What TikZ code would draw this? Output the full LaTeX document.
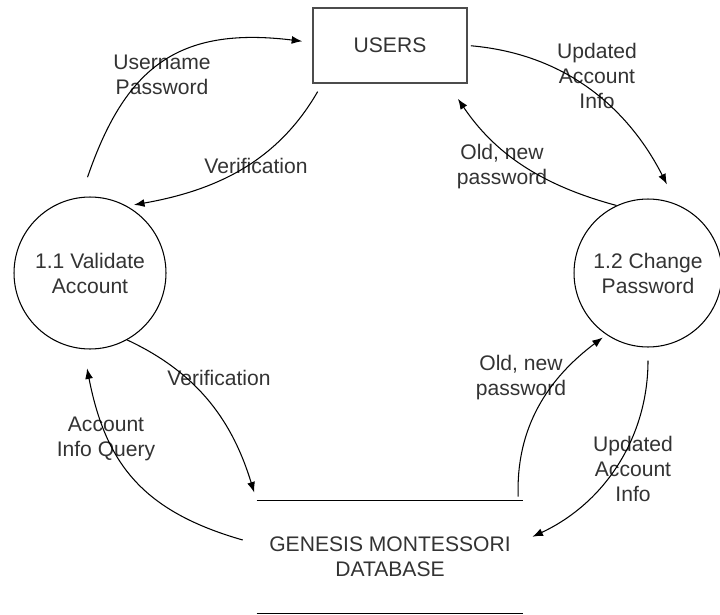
\documentclass[tikz,border=0pt]{standalone}
\usepackage{fontspec}
\setmainfont{Liberation Sans}
\usetikzlibrary{arrows.meta}

\begin{document}
\begin{tikzpicture}[x=0.02cm,y=0.02cm,
  font=\fontsize{12}{14.2}\selectfont,text=black!80,
  proc/.style={draw,circle,line width=0.6pt,minimum size=3.04cm,align=center,inner sep=0pt},
  ext/.style={draw=black!70,line width=1pt,minimum width=3.08cm,minimum height=1.5cm},
  store/.style={minimum width=5.32cm,minimum height=2.24cm,align=center},
  lbl/.style={align=center,inner sep=0pt},
  flow/.style={-{Latex[length=6pt,width=4.5pt]},line width=0.6pt}]
\useasboundingbox (0,0) rectangle (720,-615);
\node[ext] (users) at (390,-45.5) {USERS};
\node[proc] (valid) at (90,-273) {1.1 Validate\\Account};
\node[proc,minimum size=2.96cm] (change) at (648,-273) {1.2 Change\\Password};
\node[store] (db) at (390,-557) {GENESIS MONTESSORI\\DATABASE};
\draw[line width=0.8pt] (db.north west) -- (db.north east);
\draw[line width=0.8pt] (db.south west) -- (db.south east);
% labels
\node[lbl] (lup) at (162,-75) {Username\\Password};
\node[lbl] (lver1) at (256,-166) {Verification};
\node[lbl] (lupd1) at (597,-76) {Updated\\Account\\Info};
\node[lbl] (lold1) at (502,-167) {Old, new\\password};
\node[lbl] (lver2) at (219,-378) {Verification};
\node[lbl] (lacc) at (106,-439) {Account\\Info Query};
\node[lbl] (lold2) at (521,-378) {Old, new\\password};
\node[lbl] (lupd2) at (633,-469) {Updated\\Account\\Info};
% flows
\draw[flow,shorten <=0.42cm,shorten >=0.2cm] (valid.97) to[out=71,in=173,looseness=1.25] ([yshift=0.06cm]users.west);
\draw[flow,shorten <=0.18cm,shorten >=0.14cm] ([xshift=0.2cm]users.south west) to[out=240,in=10] (valid.61);
\draw[flow,shorten <=0.06cm,shorten >=0.45cm] (users.east) to[out=-5,in=117] (change.67);
\draw[flow,shorten >=0.36cm] (change.115) to[out=165,in=-56] ([xshift=-0.4cm]users.south east);
\draw[flow,shorten >=0.17cm] (valid.-61) to[out=-25,in=107] (db.north west);
\draw[flow,shorten <=0.29cm,shorten >=0.39cm] ([yshift=0.26cm]db.west) to[out=164,in=-79,looseness=1.15] (valid.-95);
\draw[flow,shorten <=0.08cm,shorten >=0.09cm] ([xshift=-0.1cm]db.north east) to[out=92,in=217] (change.236);
\draw[flow,shorten <=0.26cm,shorten >=0.2cm] (change.south) to[out=-90,in=25] ([yshift=0.32cm]db.east);
\end{tikzpicture}
\end{document}
